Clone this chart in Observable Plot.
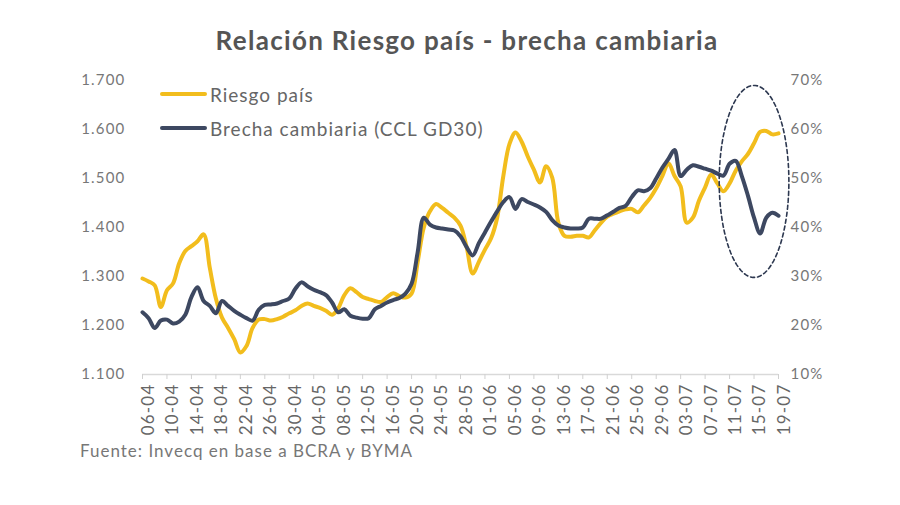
<!DOCTYPE html>
<html><head><meta charset="utf-8">
<script src="https://cdn.jsdelivr.net/npm/d3@7"></script>
<script src="https://cdn.jsdelivr.net/npm/@observablehq/plot@0.6"></script>
<style>
body{margin:0;background:#fff;font-family:Lato,"Open Sans",sans-serif;}
#wrap{position:relative;width:900px;height:505px;overflow:hidden;}
#chart{position:absolute;left:0;top:0;}
#title{position:absolute;left:0;width:934px;top:24px;text-align:center;font-size:26px;letter-spacing:1.3px;font-weight:700;color:#555;white-space:nowrap;}
.leg{position:absolute;left:160px;font-size:19px;letter-spacing:1px;color:#666;display:flex;align-items:center;white-space:nowrap;height:24px;}
.sw{width:47px;height:4px;border-radius:2px;margin-right:3px;}
#cap{position:absolute;left:80px;top:440px;font-size:17px;letter-spacing:1px;color:#777;white-space:nowrap;}
svg text{letter-spacing:1.2px;}
</style></head>
<body><div id="wrap">
<div id="chart"></div>
<div id="title">Relación Riesgo país - brecha cambiaria</div>
<div class="leg" style="top:82px"><div class="sw" style="background:#F2BD1D"></div><span>Riesgo país</span></div>
<div class="leg" style="top:116px"><div class="sw" style="background:#3D4861"></div><span>Brecha cambiaria (CCL GD30)</span></div>
<div id="cap">Fuente: Invecq en base a BCRA y BYMA</div>
</div>
<script>
// Daily series from 06-04 to 19-07 (2021)
const startDate = "2021-04-06";
const tickLabels = ["06-04","10-04","14-04","18-04","22-04","26-04","30-04","04-05","08-05","12-05","16-05","20-05","24-05","28-05","01-06","05-06","09-06","13-06","17-06","21-06","25-06","29-06","03-07","07-07","11-07","15-07","19-07"];
const leftTicks = [1100,1200,1300,1400,1500,1600,1700];
// Riesgo país (pb), left axis
const riesgo = [1296,1290,1282,1238,1272,1286,1327,1352,1362,1372,1386,1318,1255,1216,1195,1172,1145,1158,1195,1212,
1213,1210,1213,1218,1225,1231,1240,1245,1240,1236,1230,1222,1235,1262,1276,1268,1258,1254,1250,1248,
1258,1266,1260,1257,1265,1330,1400,1433,1448,1440,1430,1420,1404,1360,1306,1330,1355,1378,1420,1505,
1570,1594,1575,1545,1518,1492,1525,1502,1410,1383,1381,1383,1383,1380,1395,1410,1422,1428,1433,1437,
1438,1431,1445,1460,1480,1505,1531,1505,1484,1410,1420,1455,1482,1508,1490,1474,1490,1516,1535,1550,
1572,1595,1597,1590,1592];
// Brecha cambiaria (%), right axis
const brecha = [22.7,21.5,19.5,21.0,21.2,20.4,20.8,22.2,25.8,27.8,25.0,24.0,22.5,25.0,24.0,23.0,22.2,21.5,21.0,23.2,
24.2,24.3,24.5,25.0,25.5,27.5,28.8,28.0,27.3,26.8,26.2,24.7,22.7,23.3,22.0,21.6,21.4,21.5,23.3,24.0,
24.7,25.2,25.6,26.5,28.5,35.0,42.0,40.6,40.0,39.8,39.6,39.4,38.2,36.0,34.3,36.8,39.0,41.2,43.3,45.2,
46.2,43.8,45.8,45.2,44.7,44.1,43.2,41.5,40.4,40.0,39.8,39.8,40.0,41.8,41.8,41.8,42.5,43.2,44.0,44.4,
46.2,47.6,47.4,48.0,50.0,52.2,54.0,55.8,50.5,51.8,52.7,52.4,52.0,51.6,51.0,50.6,53.0,53.6,50.5,46.5,
42.0,38.8,42.0,43.0,42.4];
// Highlight ellipse annotation (center date, half width in days, center/half height in pb)
const ellipseCenter = "15-07", ellipseHalfDays = 5.7, ellipseMid = 1494, ellipseHalfH = 196;

const start = new Date(startDate + "T00:00:00Z");
const dates = riesgo.map((_, i) => d3.utcDay.offset(start, i));
const data = dates.map((d, i) => ({date: d, riesgo: riesgo[i], brecha: brecha[i]}));
const toLeft = p => 1100 + (p - 10) * 10;
const parseLbl = s => { const [dd, mm] = s.split("-").map(Number); return new Date(Date.UTC(2021, mm - 1, dd)); };
const tickDates = tickLabels.map(parseLbl);
const ec = parseLbl(ellipseCenter);
const ellipsePts = d3.range(0, 361, 4).map(a => {
  const t = a * Math.PI / 180;
  return {date: new Date(+ec + ellipseHalfDays * Math.cos(t) * 864e5), v: ellipseMid + ellipseHalfH * Math.sin(t)};
});
const fmt = d3.formatLocale({decimal: ",", thousands: ".", grouping: [3], currency: ["$", ""]}).format(",");

const chart = Plot.plot({
  width: 900, height: 505,
  marginLeft: 142, marginRight: 122, marginTop: 80, marginBottom: 131,
  style: {fontFamily: "Lato, sans-serif", fontSize: "14px", color: "#777", background: "transparent"},
  x: {type: "utc", domain: [dates[0], dates[dates.length - 1]]},
  y: {domain: [1100, 1700]},
  marks: [
    Plot.ruleY([1100], {stroke: "#d9d9d9", strokeWidth: 1.5}),
    Plot.axisX({ticks: tickDates, tickSize: 5, stroke: "#d0d0d0", tickFormat: () => "", label: null}),
    Plot.axisX({ticks: tickDates, tickSize: 0, tickRotate: -90, tickPadding: 9, dx: 6, tickFormat: d3.utcFormat("%d-%m"), fill: "#666", fontSize: 17, label: null}),
    Plot.axisY({ticks: leftTicks, tickSize: 0, tickPadding: 17, tickFormat: fmt, fill: "#777", fontSize: 15, label: null}),
    Plot.axisY({anchor: "right", ticks: leftTicks, tickSize: 0, tickPadding: 12, tickFormat: d => Math.round((d - 1100) / 10 + 10) + "%", fill: "#777", fontSize: 15, label: null}),
    Plot.line(data, {x: "date", y: "riesgo", stroke: "#F2BD1D", strokeWidth: 4, curve: "catmull-rom"}),
    Plot.line(data, {x: "date", y: d => toLeft(d.brecha), stroke: "#3D4861", strokeWidth: 4, curve: "catmull-rom"}),
    Plot.line(ellipsePts, {x: "date", y: "v", stroke: "#2d3850", strokeWidth: 1.6, strokeDasharray: "4,3", curve: "linear"})
  ]
});
document.getElementById("chart").appendChild(chart);
</script>
</body></html>
